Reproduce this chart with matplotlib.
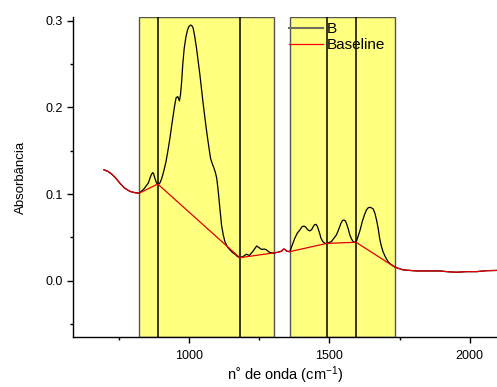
import matplotlib
matplotlib.use("Agg")
import matplotlib.pyplot as plt
from matplotlib.ticker import FixedLocator
from matplotlib.lines import Line2D

plt.rcParams['font.family'] = ['Liberation Sans', 'DejaVu Sans']
plt.rcParams['mathtext.fontset'] = 'custom'
plt.rcParams['mathtext.rm'] = 'Liberation Sans'
plt.rcParams['mathtext.it'] = 'Liberation Sans:italic'

# ---- data ----
wn_B = [697, 712, 725, 740, 754, 770, 790, 808, 823, 840, 855, 863, 867, 871, 874, 877,
        880, 883, 886, 891, 897, 903, 910, 918, 925, 932, 938, 944, 949, 954, 960, 966,
        970, 974, 978, 983, 989, 995, 1000, 1006, 1010, 1015, 1021, 1027, 1033, 1039,
        1045, 1051, 1057, 1063, 1070, 1077, 1083, 1089, 1094, 1099, 1104, 1108, 1112,
        1116, 1122, 1128, 1137, 1146, 1155, 1164, 1172, 1181, 1193, 1205, 1215,
        1228, 1241, 1250, 1259, 1268, 1276, 1285, 1294, 1305, 1320, 1330, 1337, 1342,
        1348, 1359, 1377, 1386, 1395, 1402, 1409, 1415, 1420, 1426, 1431, 1437, 1442,
        1447, 1452, 1457, 1462, 1466, 1470, 1477, 1484, 1491,
        1507, 1525, 1533, 1541, 1547, 1552, 1557, 1561, 1567, 1573, 1579, 1585, 1590,
        1595, 1602, 1610, 1617, 1625, 1632, 1638, 1644, 1650, 1656, 1662,
        1668, 1674, 1679, 1685, 1691, 1700, 1709, 1718, 1727, 1736, 1745, 1763, 1810,
        1850, 1893, 1925, 1953, 1988, 2024, 2060, 2096]
abs_B = [0.128, 0.126, 0.123, 0.118, 0.1125, 0.107, 0.103, 0.1015, 0.101, 0.106, 0.1125,
         0.120, 0.123, 0.1247, 0.1235, 0.120, 0.117, 0.114, 0.112, 0.111, 0.113, 0.118,
         0.126, 0.137, 0.150, 0.164, 0.178, 0.191, 0.202, 0.211, 0.2125, 0.2075, 0.215,
         0.230, 0.250, 0.268, 0.281, 0.2895, 0.2935, 0.295, 0.2945, 0.2915, 0.281, 0.268,
         0.253, 0.2375, 0.220, 0.203, 0.187, 0.172, 0.156, 0.141, 0.135, 0.130, 0.125,
         0.118, 0.104, 0.091, 0.077, 0.064, 0.053, 0.045, 0.039, 0.0355, 0.0325, 0.0305,
         0.028, 0.0265, 0.028, 0.0305, 0.029,
         0.034, 0.040, 0.038, 0.036, 0.0365, 0.0355, 0.033, 0.032, 0.032, 0.033, 0.034,
         0.0365, 0.036, 0.034, 0.0335, 0.049, 0.055, 0.0585, 0.062, 0.063, 0.062, 0.060,
         0.058, 0.0575, 0.059, 0.062, 0.0645, 0.065, 0.063, 0.058, 0.054, 0.049, 0.045,
         0.043, 0.043,
         0.045, 0.0527, 0.059, 0.066, 0.0695, 0.070, 0.069, 0.066, 0.060, 0.0527, 0.048,
         0.045, 0.0445,
         0.0443, 0.0508, 0.059, 0.068, 0.076, 0.0816, 0.084, 0.0847, 0.084, 0.0828, 0.078,
         0.070, 0.060, 0.049, 0.040, 0.0335, 0.027, 0.022, 0.019, 0.0173, 0.0155, 0.0143,
         0.0124, 0.0112,
         0.0112, 0.0112, 0.0102, 0.0097, 0.0104, 0.0104, 0.0115, 0.0118]

wn_base = [697, 712, 725, 740, 754, 770, 790, 808, 823, 889, 1181, 1301, 1320, 1330, 1337,
           1342, 1348, 1359, 1491, 1595, 1735, 1745, 1763, 1810, 1850, 1893, 1925, 1953,
           1988, 2024, 2060, 2096]
abs_base = [0.128, 0.126, 0.123, 0.118, 0.1125, 0.107, 0.103, 0.1015, 0.101, 0.1115, 0.0265,
            0.032, 0.033, 0.034, 0.0365, 0.036, 0.034, 0.0335, 0.043, 0.0443, 0.0152, 0.0143,
            0.0124, 0.0112, 0.0112, 0.0112, 0.0102, 0.0097, 0.0104, 0.0104, 0.0115, 0.0118]

regions = [(823, 1302), (1359, 1735)]
markers = [889, 1181, 1491, 1595]

xticks_major = [1000, 1500, 2000]
yticks_major = [0.0, 0.1, 0.2, 0.3]
ytick_labels = ['0.0', '0.1', '0.2', '0.3']

# ---- figure ----
fig = plt.figure(figsize=(4.97, 3.87), dpi=100)
ax = fig.add_axes([73/497, 49.7/387, (497-73)/497, (337.3-17.3)/387])

for (a, b) in regions:
    ax.axvspan(a, b, facecolor='#FFFF80', edgecolor='#555555', linewidth=1.0, zorder=1)
for m in markers:
    ax.axvline(m, color='black', linewidth=1.1, zorder=2)

ax.plot(wn_B, abs_B, color='black', linewidth=0.9, zorder=3)
ax.plot(wn_base, abs_base, color='#e00000', linewidth=0.9, zorder=4)

ax.set_xlim(587, 2097)
ax.set_ylim(-0.0654, 0.304)

ax.xaxis.set_major_locator(FixedLocator(xticks_major))
ax.xaxis.set_minor_locator(FixedLocator([750, 1250, 1750]))
ax.yaxis.set_major_locator(FixedLocator(yticks_major))
ax.yaxis.set_minor_locator(FixedLocator([-0.05, 0.05, 0.15, 0.25]))
ax.set_yticklabels(ytick_labels)

for s in ['top', 'right']:
    ax.spines[s].set_visible(False)
for s in ['left', 'bottom']:
    ax.spines[s].set_linewidth(1.0)

ax.tick_params(which='major', direction='out', length=4.5, width=1.0, labelsize=9, pad=3)
ax.tick_params(which='minor', direction='out', length=2.5, width=1.0)
ax.tick_params(axis='x', which='major', pad=4.5)

ax.set_ylabel('Absorbância', fontsize=9.5, labelpad=13)
ax.set_xlabel('n˚ de onda (cm$^{-1}$)', fontsize=10.5, labelpad=2)

h1 = Line2D([], [], color='#6e6e5e', linewidth=1.5)
h2 = Line2D([], [], color='red', linewidth=0.9)
fig.legend([h1, h2], ['B', 'Baseline'], loc='upper left',
           bbox_to_anchor=(289/497, 1 - 22/387), frameon=False,
           fontsize=11, handlelength=2.2, handletextpad=0.25,
           labelspacing=0.15, borderpad=0.0, borderaxespad=0.0)

fig.savefig('out.png', dpi=100)
